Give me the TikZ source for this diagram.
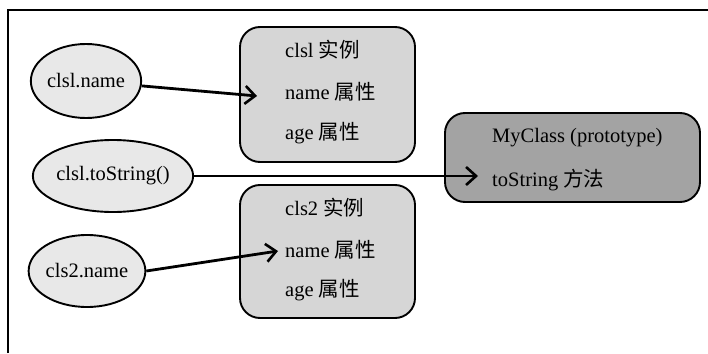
\documentclass[tikz,border=0pt]{standalone}
\usepackage{fontspec}
\setmainfont{Liberation Serif}
\newfontfamily\cjk{Noto Sans CJK SC}
\usetikzlibrary{shapes.geometric,arrows.meta}

\definecolor{ovalfill}{gray}{0.91}
\definecolor{objfill}{gray}{0.84}
\definecolor{protofill}{gray}{0.64}

\tikzset{
  oval/.style={ellipse, draw, line width=1.9pt, fill=ovalfill, inner sep=0pt,
    font=\fontsize{20.5}{22}\selectfont},
  objbox/.style={draw, line width=1.9pt, rounded corners=20pt, inner sep=0pt},
  label/.style={anchor=west, inner sep=0pt, font=\fontsize{20.5}{22}\selectfont},
  link/.style={line width=2.8pt, -{Straight Barb[length=10pt,width=18pt,line width=2.6pt]}},
  frame/.style={line width=1.9pt},
}

\begin{document}
\begin{tikzpicture}[x=1pt, y=-1pt]
  \useasboundingbox (0,0) rectangle (708,353);

  % outer frame (top and left edges)
  \draw[frame] (8,353) -- (8,10) -- (708,10);

  % object boxes
  \draw[objbox, fill=objfill] (240,27) rectangle (415,162);
  \draw[objbox, fill=objfill] (240,185) rectangle (415,318);
  \draw[objbox, fill=protofill] (445,113) rectangle (700,202);
  \node[inner sep=0pt] (obj1) at (327.5,94.5) {};
  \node[inner sep=0pt] (obj2) at (327.5,251.5) {};
  \node[inner sep=0pt] (proto) at (572.5,157.5) {};

  % box contents
  \node[label] (o1a) at (285,50)  {clsl {\cjk 实例}};
  \node[label] (o1b) at (285,92)  {name {\cjk 属性}};
  \node[label] (o1c) at (285,133) {age {\cjk 属性}};

  \node[label] (o2a) at (285,208) {cls2 {\cjk 实例}};
  \node[label] (o2b) at (285,250) {name {\cjk 属性}};
  \node[label] (o2c) at (285,290) {age {\cjk 属性}};

  \node[label] (p1) at (492,138) {MyClass (prototype)};
  \node[label] (p2) at (492,180) {toString {\cjk 方法}};

  % references
  \node[oval, minimum width=108pt, minimum height=74pt] (e1) at (86,81)  {clsl.name};
  \node[oval, minimum width=130pt, minimum height=72pt] (e3) at (113,176) {clsl.toString()};
  \node[oval, minimum width=108pt, minimum height=72pt] (e2) at (87,271) {cls2.name};

  % arrow end points
  \coordinate (t1) at (257,96);
  \coordinate (t3) at (478,176);
  \coordinate (t2) at (278,251);

  \draw[link] (e1) -- (t1);
  \draw[link] (e3) -- (t3);
  \draw[link] (e2.east) -- (t2);
\end{tikzpicture}
\end{document}
